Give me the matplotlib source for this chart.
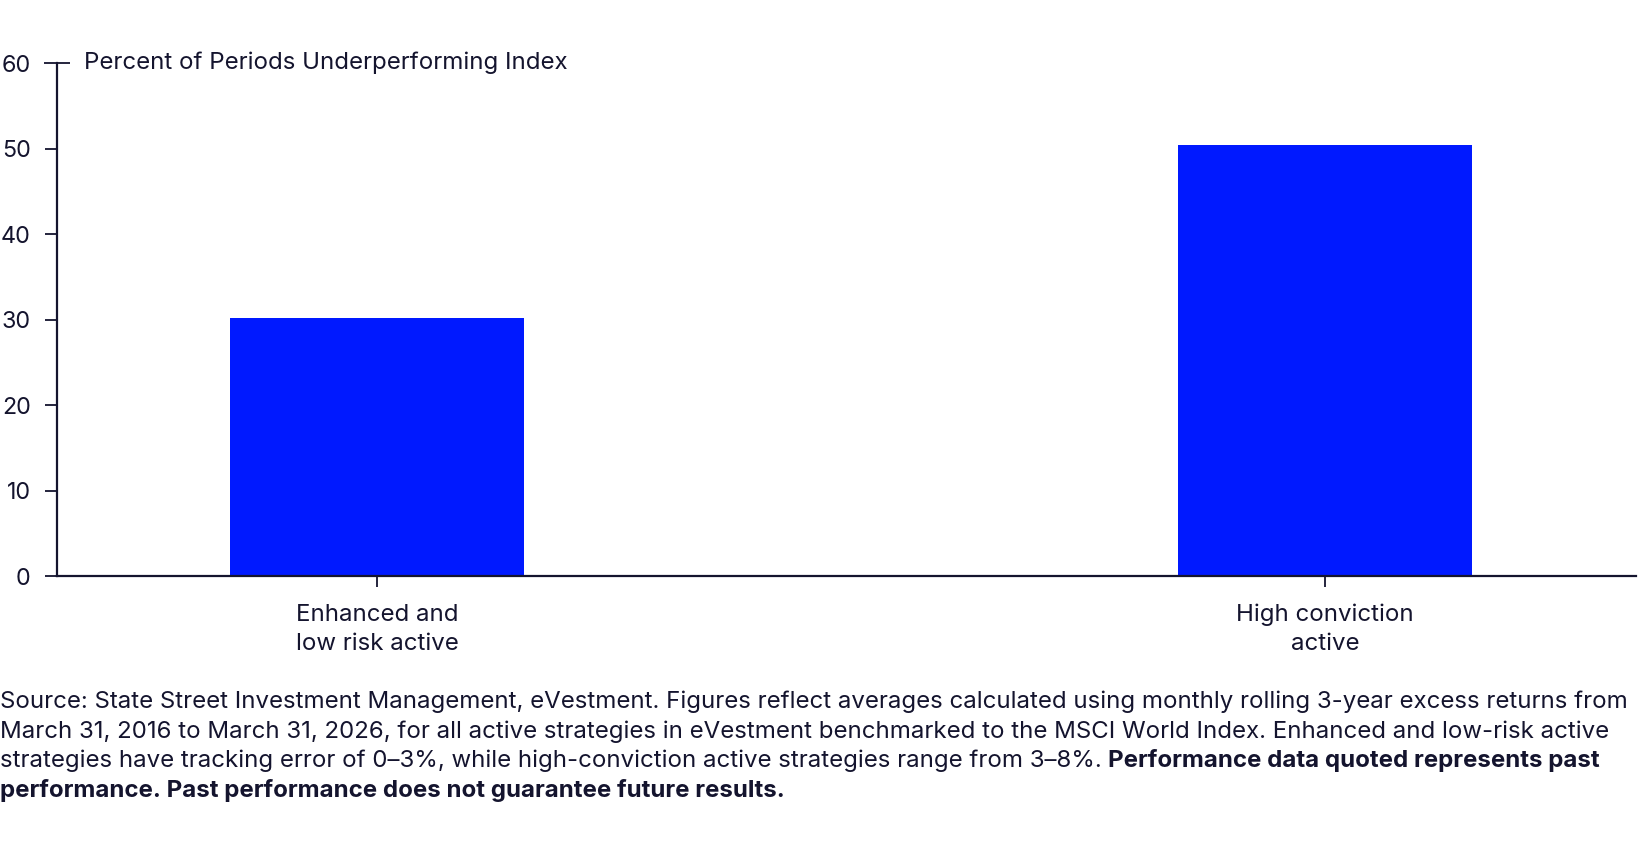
import matplotlib
matplotlib.use("Agg")
import matplotlib.pyplot as plt

categories = ["Enhanced and\nlow risk active", "High conviction\nactive"]
values = [30.2, 50.4]
yticks = [0, 10, 20, 30, 40, 50, 60]
ylabel = "Percent of Periods Underperforming Index"
note_lines = [
    ("Source: State Street Investment Management, eVestment. Figures reflect averages calculated using monthly rolling 3-year excess returns from", ""),
    ("March 31, 2016 to March 31, 2026, for all active strategies in eVestment benchmarked to the MSCI World Index. Enhanced and low-risk active", ""),
    ("strategies have tracking error of 0\u20133%, while high-conviction active strategies range from 3\u20138%. ", "Performance data quoted represents past"),
    ("", "performance. Past performance does not guarantee future results."),
]

bar_color = "#0019FF"
ink = "#14142e"
fs = 17.3

plt.rcParams['font.family'] = ['Inter', 'DejaVu Sans']
plt.rcParams['font.size'] = fs

fig = plt.figure(figsize=(16.48, 8.52), dpi=100)
ax = fig.add_axes([0.0346, 0.3239, 0.9581, 0.6021])

x = list(range(len(categories)))
ax.bar(x, values, width=0.31, color=bar_color, zorder=2)

ax.set_xlim(-0.3376, 1.328)
ax.set_ylim(0, 60)
ax.set_yticks(yticks)
ax.set_xticks(x)
ax.set_xticklabels(categories, color=ink, linespacing=1.4)

for s in ["top", "right"]:
    ax.spines[s].set_visible(False)
for s in ["left", "bottom"]:
    ax.spines[s].set_color(ink)
    ax.spines[s].set_linewidth(1.6)

ax.tick_params(axis="y", direction="out", length=9, width=1.3, color=ink,
               labelcolor=ink, pad=10, labelsize=16.8)
ax.tick_params(axis="x", direction="out", length=8, width=1.3, color=ink,
               labelcolor=ink, pad=12)

# top tick crosses the spine
top_tick = ax.yaxis.get_major_ticks()[-1]
top_tick.tick1line.set_marker("_")
top_tick.tick1line.set_markersize(19)

ax.annotate(ylabel, xy=(0, 60), xycoords=("axes fraction", "data"),
            xytext=(19.5, 0), textcoords="offset points",
            ha="left", va="center", color=ink, fontsize=fs)

# footnote
fig.canvas.draw()
renderer = fig.canvas.get_renderer()
y0 = 1 - 702 / 852
step = 29.5 / 852
for i, (reg, bold) in enumerate(note_lines):
    y = y0 - i * step
    xpos = 0.0
    if reg:
        t = fig.text(0.0, y, reg, ha="left", va="center", color=ink, fontsize=fs)
        bb = t.get_window_extent(renderer)
        xpos = bb.x1 / fig.bbox.width
    if bold:
        fig.text(xpos, y, bold, ha="left", va="center", color=ink,
                 fontsize=fs, fontweight="bold")

fig.savefig("out.png", dpi=100)
